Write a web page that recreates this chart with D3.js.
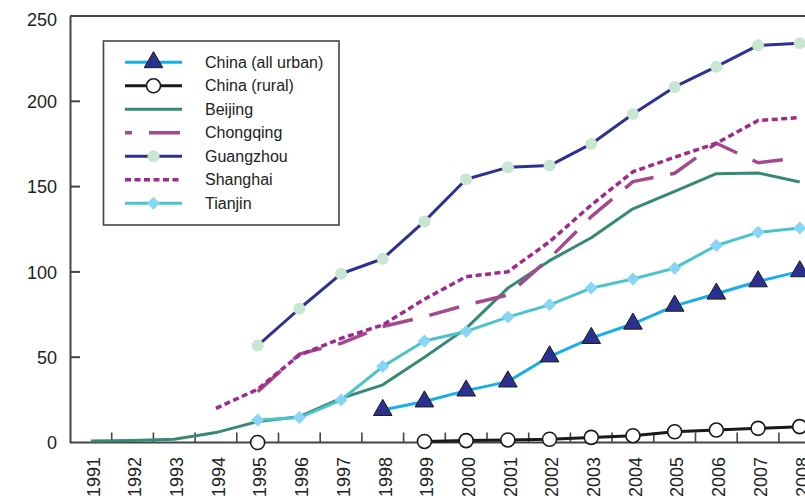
<!DOCTYPE html>
<html><head><meta charset="utf-8">
<script src="https://cdn.jsdelivr.net/npm/d3@7"></script>
<style>html,body{margin:0;padding:0;background:#fff;}svg{display:block;font-family:"Liberation Sans",Arial,sans-serif;}</style>
</head><body><svg id="c" width="805" height="500"></svg>
<script>
const years = ["1991","1992","1993","1994","1995","1996","1997","1998","1999","2000","2001","2002","2003","2004","2005","2006","2007","2008"];
const yTicks = [0, 50, 100, 150, 200, 250];
const seriesNames = ["China (all urban)","China (rural)","Beijing","Chongqing","Guangzhou","Shanghai","Tianjin"];
const chinaUrban = [null,null,null,null,null,null,null,19,24,30.4,35.7,50.4,61.2,69.6,80.1,87.2,94.4,100.3];
const chinaRural = [null,null,null,null,0,null,null,null,0.6,1.1,1.5,1.9,3,4,6.3,7.3,8.3,9.3];
const beijing    = [0.9,1.2,1.9,5.8,12.3,15.1,25.9,33.8,50,66.9,90.5,106.6,120,137,147.2,157.6,158,152.7];
const chongqing  = [null,null,null,null,29.8,51.8,58.1,68,73.7,80.6,86.5,108,132.4,152.9,157.8,175.4,164,167];
const guangzhou  = [null,null,null,null,56.8,78.4,98.9,107.7,129.6,154.3,161.3,162.3,175,192.6,208.4,220.3,232.8,234];
const shanghai   = [null,null,null,20,31.2,51.3,61,68.9,84,97.2,100.1,117.7,139.2,158.7,167.2,175.4,188.7,190.5];
const tianjin    = [null,null,null,null,13.2,14.6,24.9,44.5,59.5,65.1,73.5,80.7,90.5,95.8,102.2,115.5,123.2,125.7];

(function(){
const seriesData = [chinaUrban, chinaRural, beijing, chongqing, guangzhou, shanghai, tianjin];
const styles = [
  {stroke:"#19aeea", width:3, dash:null, marker:"tri"},
  {stroke:"#1a1a1a", width:3, dash:null, marker:"ocircle"},
  {stroke:"#368a73", width:3, dash:null, marker:null},
  {stroke:"#a5498f", width:3.5, dash:"31,17", marker:null, legendOffset:24},
  {stroke:"#2e3092", width:3, dash:null, marker:"gcircle"},
  {stroke:"#a0288f", width:3.5, dash:"6,3.5", marker:null},
  {stroke:"#4cc3cc", width:3, dash:null, marker:"diamond"}
];

const svg = d3.select("#c");
const mLeft = 70, mTop = 16, mBottom = 442.5, step = 41.7;
const x = d3.scaleBand().domain(years).range([mLeft, mLeft + step*years.length]).padding(0);
const y = d3.scaleLinear().domain([0,250]).range([mBottom, mTop]);
const cx = d => x(d) + x.bandwidth()/2;
const axisColor = "#444";

svg.append("line").attr("x1",mLeft).attr("x2",830).attr("y1",mTop).attr("y2",mTop).attr("stroke",axisColor).attr("stroke-width",2);

const yAxis = d3.axisLeft(y).tickValues(yTicks).tickSize(0).tickPadding(13);
const gy = svg.append("g").attr("transform",`translate(${mLeft},0)`).call(yAxis);
gy.select(".domain").attr("stroke",axisColor).attr("stroke-width",2);
gy.selectAll("text").attr("font-size",18).attr("fill","#222").attr("font-family","Liberation Sans, Arial, sans-serif")
  .attr("dy", d => d===250 ? "0.55em" : "0.34em");
svg.append("g").selectAll("line").data(yTicks.filter(t=>t>0 && t<250)).join("line")
  .attr("x1",mLeft).attr("x2",mLeft+10).attr("y1",d=>y(d)).attr("y2",d=>y(d)).attr("stroke",axisColor).attr("stroke-width",2);

svg.append("line").attr("x1",mLeft).attr("x2",830).attr("y1",mBottom).attr("y2",mBottom).attr("stroke",axisColor).attr("stroke-width",2);
svg.append("g").selectAll("line").data(years.slice(1)).join("line")
  .attr("x1",d=>x(d)).attr("x2",d=>x(d)).attr("y1",mBottom).attr("y2",mBottom-10).attr("stroke",axisColor).attr("stroke-width",1.6);
svg.append("g").selectAll("text").data(years).join("text")
  .attr("transform",d=>`translate(${cx(d)},457) rotate(-90)`)
  .attr("text-anchor","end").attr("dy","0.49em").attr("font-size",18).attr("fill","#222").text(d=>d);

function drawMarker(g, type, px, py){
  if(type==="tri"){
    g.append("path").attr("d", d3.symbol(d3.symbolTriangle, 150)()).attr("transform",`translate(${px},${py})`)
      .attr("fill","#2b3190").attr("stroke","#1a1a1a").attr("stroke-width",1);
  } else if(type==="ocircle"){
    g.append("circle").attr("cx",px).attr("cy",py).attr("r",7).attr("fill","#fff").attr("stroke","#1a1a1a").attr("stroke-width",1.6);
  } else if(type==="gcircle"){
    g.append("circle").attr("cx",px).attr("cy",py).attr("r",6).attr("fill","#c8e6d2");
  } else if(type==="diamond"){
    g.append("path").attr("d","M0,-6.5L6.5,0L0,6.5L-6.5,0Z").attr("transform",`translate(${px},${py})`).attr("fill","#88d6f5");
  }
}

const line = d3.line().defined(d=>d.v!==null).x(d=>cx(d.year)).y(d=>y(d.v));
const plot = svg.append("g");
seriesData.forEach((arr,i)=>{
  const st = styles[i];
  const pts = years.map((yr,j)=>({year:yr, v:arr[j]}));
  const g = plot.append("g");
  g.append("path").datum(pts).attr("d",line).attr("fill","none").attr("stroke",st.stroke)
    .attr("stroke-width",st.width).attr("stroke-dasharray",st.dash).attr("stroke-linejoin","round");
  if(st.marker){
    pts.filter(p=>p.v!==null).forEach(p=>drawMarker(g, st.marker, cx(p.year), y(p.v)));
  }
});

const lg = svg.append("g");
lg.append("rect").attr("x",103.5).attr("y",41).attr("width",235.5).attr("height",184)
  .attr("fill","#fff").attr("stroke",axisColor).attr("stroke-width",1.6);
seriesNames.forEach((name,i)=>{
  const st = styles[i];
  const ly = 62.3 + 23.5*i;
  lg.append("line").attr("x1",125).attr("x2",182).attr("y1",ly).attr("y2",ly)
    .attr("stroke",st.stroke).attr("stroke-width",st.width).attr("stroke-dasharray",st.dash)
    .attr("stroke-dashoffset",st.legendOffset||0);
  if(st.marker) drawMarker(lg, st.marker, 153.5, ly);
  lg.append("text").attr("x",205).attr("y",ly).attr("dy","0.35em").attr("font-size",16).attr("fill","#222").text(name);
});
})();
</script></body></html>
